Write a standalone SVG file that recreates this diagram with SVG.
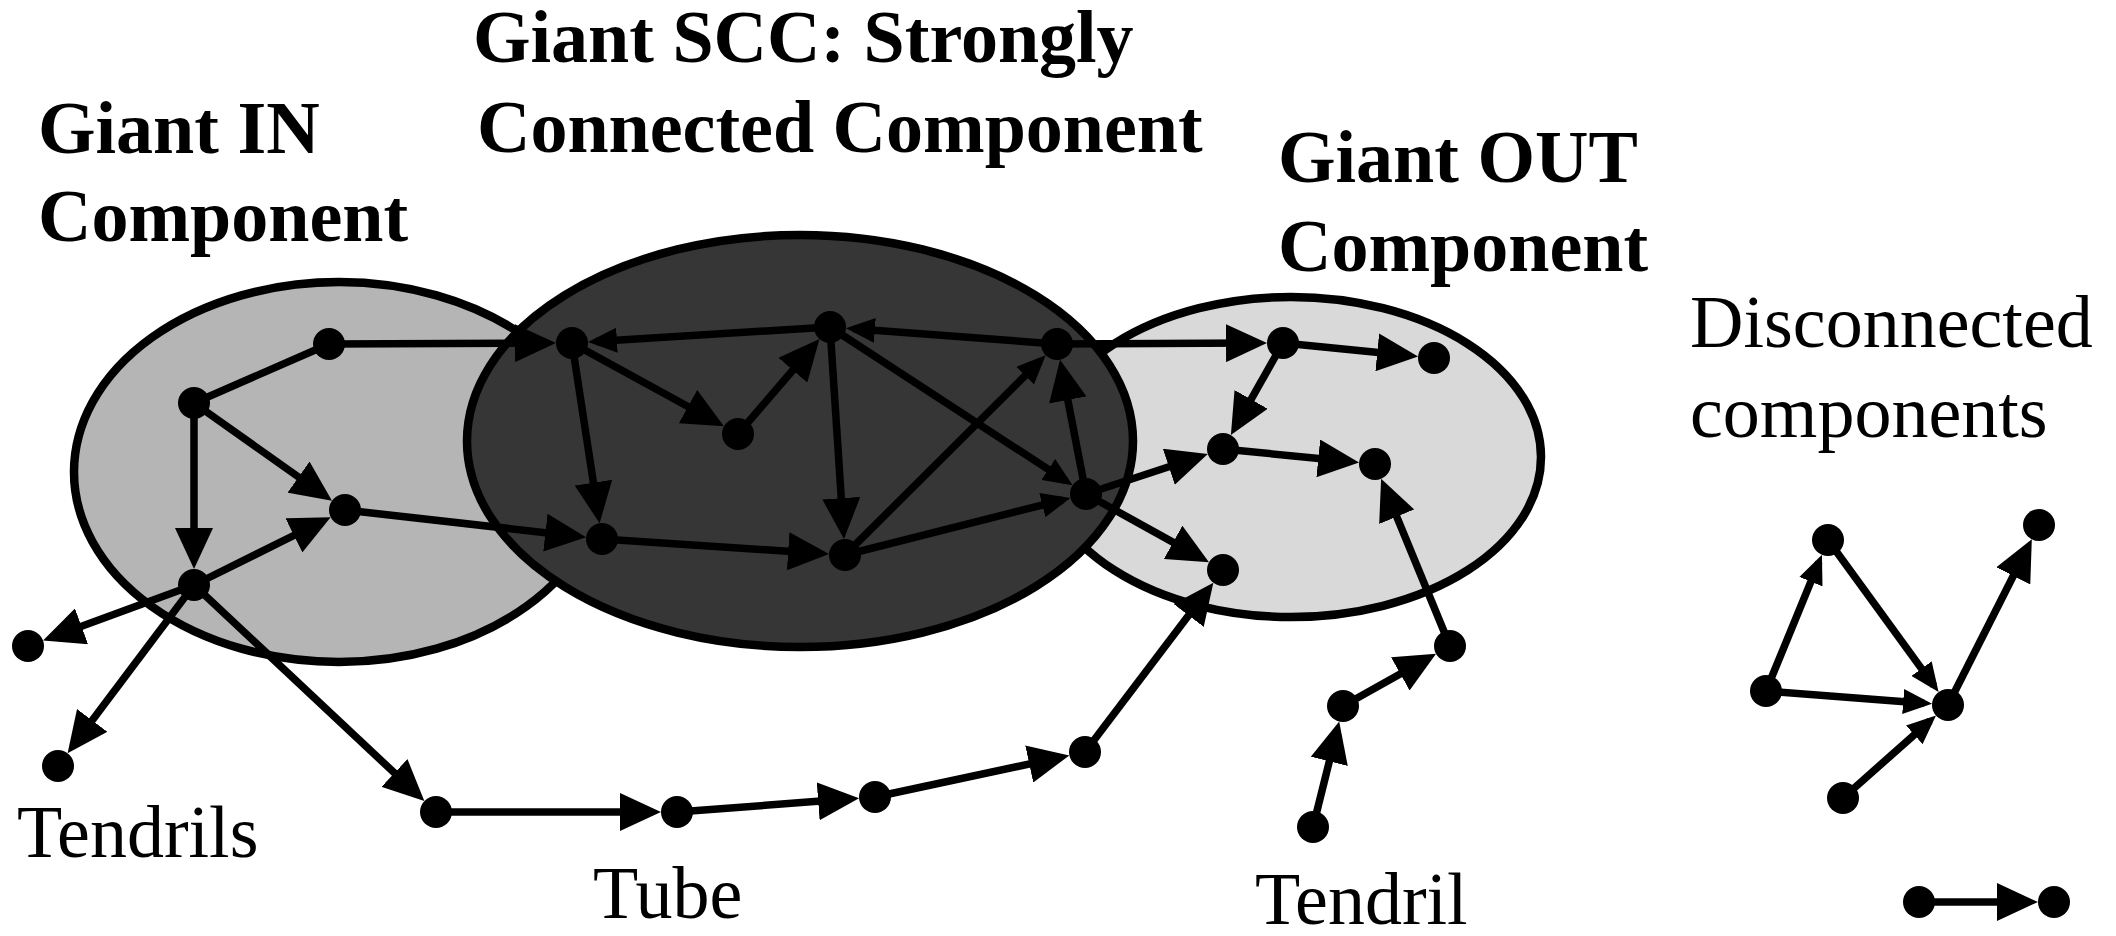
<svg xmlns="http://www.w3.org/2000/svg" width="2116" height="936" viewBox="0 0 2116 936">
  <style>
    .region { stroke: #000; stroke-width: 8.5; }
    .edge { stroke: #000; stroke-width: 7.5; fill: none; }
    .big { marker-end: url(#ah); }
    .small { marker-end: url(#ahs); }
    .node circle { fill: #000; }
    .title { font-family: "Liberation Serif", "Times New Roman", serif; font-weight: bold; font-size: 74px; fill: #000; }
    .label { font-family: "Liberation Serif", "Times New Roman", serif; font-size: 74px; fill: #000; }
  </style>
  <defs>
    <marker id="ah" markerUnits="userSpaceOnUse" markerWidth="41" markerHeight="38" refX="29" refY="19" orient="auto">
      <path d="M0,0 L41,19 L0,38 z" fill="#000"/>
    </marker>
    <marker id="ahs" markerUnits="userSpaceOnUse" markerWidth="29" markerHeight="25" refX="21" refY="12.5" orient="auto">
      <path d="M0,0 L29,12.5 L0,25 z" fill="#000"/>
    </marker>
  </defs>

  <rect width="2116" height="936" fill="#fff"/>

  <!-- component regions -->
  <g id="region-in"><ellipse class="region" cx="339" cy="472" rx="265" ry="190" fill="#b5b5b5"/></g>
  <g id="region-out"><ellipse class="region" cx="1291" cy="457" rx="250" ry="160" fill="#d9d9d9"/></g>
  <g id="region-scc"><ellipse class="region" cx="800" cy="441" rx="333" ry="206" fill="#363636"/></g>

  <!-- titles and labels -->
  <g id="labels">
    <text class="title" x="38" y="153">Giant IN</text>
    <text class="title" x="38" y="241">Component</text>
    <text class="title" x="473" y="62">Giant SCC: Strongly</text>
    <text class="title" x="477" y="152">Connected Component</text>
    <text class="title" x="1278" y="182">Giant OUT</text>
    <text class="title" x="1278" y="271">Component</text>
    <text class="label" x="1690" y="347">Disconnected</text>
    <text class="label" x="1690" y="437">components</text>
    <text class="label" x="17" y="857">Tendrils</text>
    <text class="label" x="593" y="918">Tube</text>
    <text class="label" x="1255" y="924">Tendril</text>
  </g>

  <!-- connectors -->
  <g id="connectors">
    <!-- IN component -->
    <line class="edge" x1="194" y1="403" x2="329" y2="344"/>
    <line class="edge big" x1="329" y1="344" x2="544" y2="343"/>
    <line class="edge big" x1="194" y1="403" x2="322.2" y2="493.8"/>
    <line class="edge big" x1="194" y1="403" x2="194" y2="557"/>
    <line class="edge big" x1="194" y1="585" x2="319.9" y2="522.5"/>
    <line class="edge big" x1="345" y1="510" x2="574.2" y2="535.9"/>
    <line class="edge big" x1="194" y1="585" x2="54.3" y2="636.3"/>
    <line class="edge big" x1="194" y1="585" x2="74.8" y2="743.6"/>
    <line class="edge big" x1="194" y1="585" x2="415.6" y2="792.8"/>
    <!-- SCC -->
    <line class="edge small" x1="830" y1="327" x2="596" y2="341.5"/>
    <line class="edge big" x1="572" y1="343" x2="713.4" y2="420.5"/>
    <line class="edge big" x1="738" y1="434" x2="811.7" y2="348.2"/>
    <line class="edge big" x1="572" y1="343" x2="597.8" y2="511.3"/>
    <line class="edge big" x1="602" y1="539" x2="817.1" y2="553.2"/>
    <line class="edge big" x1="830" y1="327" x2="843.2" y2="527.1"/>
    <line class="edge small" x1="1057" y1="344" x2="853.9" y2="328.8"/>
    <line class="edge small" x1="830" y1="327" x2="1065.9" y2="480.9"/>
    <line class="edge small" x1="845" y1="555" x2="1040" y2="360.9"/>
    <line class="edge small" x1="845" y1="555" x2="1062.7" y2="499.9"/>
    <line class="edge big" x1="1086" y1="494" x2="1062.3" y2="371.5"/>
    <!-- OUT component -->
    <line class="edge big" x1="1057" y1="344" x2="1255" y2="343"/>
    <line class="edge big" x1="1283" y1="343" x2="1406.1" y2="355.2"/>
    <line class="edge big" x1="1283" y1="343" x2="1236.8" y2="424.6"/>
    <line class="edge big" x1="1086" y1="494" x2="1196.4" y2="457.7"/>
    <line class="edge big" x1="1223" y1="449" x2="1347.1" y2="461.3"/>
    <line class="edge big" x1="1086" y1="494" x2="1198.5" y2="556.4"/>
    <line class="edge big" x1="1085" y1="752" x2="1206.1" y2="592.3"/>
    <line class="edge big" x1="1450" y1="646" x2="1385.7" y2="489.9"/>
    <line class="edge big" x1="1343" y1="706" x2="1425.6" y2="659.7"/>
    <line class="edge big" x1="1313" y1="827" x2="1336.3" y2="733.2"/>
    <!-- tube -->
    <line class="edge big" x1="436" y1="812" x2="649" y2="812"/>
    <line class="edge big" x1="677" y1="812" x2="847.1" y2="799.1"/>
    <line class="edge big" x1="875" y1="797" x2="1057.6" y2="757.9"/>
    <!-- disconnected components -->
    <line class="edge small" x1="1766" y1="691" x2="1818.9" y2="562.2"/>
    <line class="edge small" x1="1828" y1="540" x2="1933.9" y2="685.6"/>
    <line class="edge small" x1="1766" y1="691" x2="1924.1" y2="703.2"/>
    <line class="edge small" x1="1843" y1="798" x2="1930" y2="720.9"/>
    <line class="edge big" x1="1948" y1="705" x2="2026.4" y2="550"/>
    <line class="edge big" x1="1919" y1="902" x2="2026" y2="902"/>
  </g>

  <!-- nodes -->
  <g id="in-a" class="node"><circle cx="329" cy="344" r="16"/></g>
  <g id="in-b" class="node"><circle cx="194" cy="403" r="16"/></g>
  <g id="in-c" class="node"><circle cx="345" cy="510" r="16"/></g>
  <g id="in-d" class="node"><circle cx="194" cy="585" r="16"/></g>
  <g id="tendril-1" class="node"><circle cx="28" cy="646" r="16"/></g>
  <g id="tendril-2" class="node"><circle cx="58" cy="766" r="16"/></g>

  <g id="scc-1" class="node"><circle cx="572" cy="343" r="16"/></g>
  <g id="scc-2" class="node"><circle cx="830" cy="327" r="16"/></g>
  <g id="scc-3" class="node"><circle cx="738" cy="434" r="16"/></g>
  <g id="scc-4" class="node"><circle cx="1057" cy="344" r="16"/></g>
  <g id="scc-5" class="node"><circle cx="602" cy="539" r="16"/></g>
  <g id="scc-6" class="node"><circle cx="845" cy="555" r="16"/></g>
  <g id="scc-7" class="node"><circle cx="1086" cy="494" r="16"/></g>

  <g id="out-1" class="node"><circle cx="1283" cy="343" r="16"/></g>
  <g id="out-2" class="node"><circle cx="1434" cy="358" r="16"/></g>
  <g id="out-3" class="node"><circle cx="1223" cy="449" r="16"/></g>
  <g id="out-4" class="node"><circle cx="1375" cy="464" r="16"/></g>
  <g id="out-5" class="node"><circle cx="1223" cy="570" r="16"/></g>
  <g id="out-tendril-1" class="node"><circle cx="1450" cy="646" r="16"/></g>
  <g id="out-tendril-2" class="node"><circle cx="1343" cy="706" r="16"/></g>
  <g id="out-tendril-3" class="node"><circle cx="1313" cy="827" r="16"/></g>

  <g id="tube-1" class="node"><circle cx="436" cy="812" r="16"/></g>
  <g id="tube-2" class="node"><circle cx="677" cy="812" r="16"/></g>
  <g id="tube-3" class="node"><circle cx="875" cy="797" r="16"/></g>
  <g id="tube-4" class="node"><circle cx="1085" cy="752" r="16"/></g>

  <g id="disc-1" class="node"><circle cx="1828" cy="540" r="16"/></g>
  <g id="disc-2" class="node"><circle cx="1766" cy="691" r="16"/></g>
  <g id="disc-3" class="node"><circle cx="1948" cy="705" r="16"/></g>
  <g id="disc-4" class="node"><circle cx="2039" cy="525" r="16"/></g>
  <g id="disc-5" class="node"><circle cx="1843" cy="798" r="16"/></g>
  <g id="disc-6" class="node"><circle cx="1919" cy="902" r="16"/></g>
  <g id="disc-7" class="node"><circle cx="2054" cy="902" r="16"/></g>
</svg>
